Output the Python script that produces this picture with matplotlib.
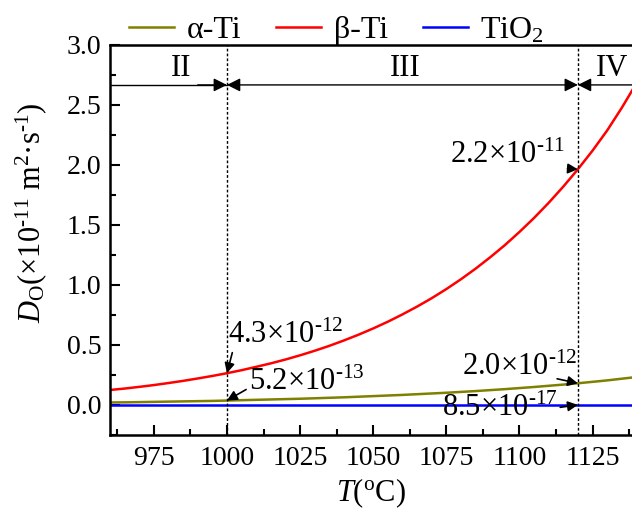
import matplotlib.pyplot as plt
from matplotlib.ticker import MultipleLocator

plt.rcParams['font.family'] = ['Liberation Serif', 'DejaVu Serif']
plt.rcParams['mathtext.fontset'] = 'custom'
plt.rcParams['mathtext.rm'] = 'Liberation Serif'
plt.rcParams['mathtext.it'] = 'Liberation Serif:italic'

# temperature (ºC) and diffusion coefficient D_O (x1e-11 m2/s)
temp = [960, 965, 970, 975, 980, 985, 990, 995, 1000, 1005, 1010, 1015, 1020,
        1025, 1030, 1035, 1040, 1045, 1050, 1055, 1060, 1065, 1070, 1075, 1080,
        1085, 1090, 1095, 1100, 1105, 1110, 1115, 1120, 1125, 1130, 1135, 1140]
d_beta = [0.124, 0.136, 0.150, 0.165, 0.182, 0.200, 0.220, 0.241, 0.264, 0.289,
          0.317, 0.346, 0.378, 0.413, 0.451, 0.492, 0.537, 0.585, 0.637, 0.693,
          0.754, 0.819, 0.889, 0.965, 1.047, 1.135, 1.230, 1.331, 1.441, 1.558,
          1.684, 1.819, 1.964, 2.119, 2.287, 2.476, 2.680]
d_alpha = [0.020, 0.021, 0.023, 0.025, 0.027, 0.029, 0.031, 0.033, 0.036, 0.039,
           0.042, 0.045, 0.048, 0.051, 0.055, 0.059, 0.063, 0.068, 0.073, 0.078,
           0.083, 0.089, 0.095, 0.101, 0.108, 0.115, 0.123, 0.131, 0.140, 0.149,
           0.159, 0.169, 0.180, 0.192, 0.204, 0.218, 0.232]
d_tio2 = [0.0] * len(temp)

phase_bounds = [1000, 1120]
regions = ['II', 'III', 'IV']

fig = plt.figure(figsize=(6.32, 5.11), dpi=100)
ax = fig.add_axes([0.174, 0.149, 0.826, 0.763])

ax.plot(temp, d_alpha, color='#808000', lw=1.8, label='α-Ti')
ax.plot(temp, d_beta, color='#ff0000', lw=1.8, label='β-Ti')
ax.plot(temp, d_tio2, color='#0000ff', lw=1.8, label='TiO$_2$')

ax.set_xlim(960, 1138.5)
ax.set_ylim(-0.25, 3.0)

for b in phase_bounds:
    ax.axvline(b, color='black', ls=(0, (2, 1.5)), lw=1)

# region arrows
ya = 2.667
ax.plot([960, 1000], [ya, ya], color='black', lw=1)
ap = dict(arrowstyle='-|>', color='black', lw=1, mutation_scale=20, shrinkA=0, shrinkB=0)
ax.annotate('', xy=(1000, ya), xytext=(990, ya), arrowprops=ap)
ax.annotate('', xy=(1000, ya), xytext=(1120, ya), arrowprops=dict(ap, arrowstyle='<|-|>'))
ax.annotate('', xy=(1120, ya), xytext=(1138.5, ya), arrowprops=ap, annotation_clip=False)
ax.text(984.3, 2.8, regions[0], ha='center', va='center', fontsize=22)
ax.text(1061, 2.8, regions[1], ha='center', va='center', fontsize=22)
ax.text(1131.8, 2.8, regions[2], ha='center', va='center', fontsize=22)

# value annotations
arr = dict(arrowstyle='-|>', color='black', lw=1.2, mutation_scale=15, shrinkA=0, shrinkB=0)
fs = 22
ax.annotate('4.3×10$^{\\text{-12}}$', xy=(1000, 0.264), xytext=(1000.5, 0.58),
            ha='left', va='center', fontsize=fs,
            arrowprops=dict(arr, relpos=(0.04, 0.0)))
ax.annotate('5.2×10$^{\\text{-13}}$', xy=(1000, 0.036), xytext=(1007.5, 0.19),
            ha='left', va='center', fontsize=fs,
            arrowprops=dict(arr, relpos=(0.0, 0.3)))
ax.annotate('2.0×10$^{\\text{-12}}$', xy=(1120, 0.18), xytext=(1120, 0.31),
            ha='right', va='center', fontsize=fs,
            arrowprops=dict(arr, relpos=(0.82, 0.12)))
ax.annotate('8.5×10$^{\\text{-17}}$', xy=(1120, 0.0), xytext=(1113, -0.03),
            ha='right', va='center', fontsize=fs,
            arrowprops=dict(arr, relpos=(0.86, 0.45)))
ax.annotate('2.2×10$^{\\text{-11}}$', xy=(1120, 1.964), xytext=(1115.5, 2.08),
            ha='right', va='center', fontsize=fs,
            arrowprops=dict(arr, relpos=(0.84, 0.1)))

ax.xaxis.set_major_locator(MultipleLocator(25))
ax.xaxis.set_minor_locator(MultipleLocator(12.5))
ax.yaxis.set_major_locator(MultipleLocator(0.5))
ax.yaxis.set_minor_locator(MultipleLocator(0.25))
ax.set_xticks([975, 1000, 1025, 1050, 1075, 1100, 1125])
ax.tick_params(which='major', direction='in', length=7, width=1.5, labelsize=20)
ax.tick_params(which='minor', direction='in', length=4, width=1.5)
ax.tick_params(axis='x', pad=8)
ax.tick_params(axis='y', pad=6)
ax.yaxis.set_major_formatter(plt.FormatStrFormatter('%.1f'))
for s in ['left', 'bottom', 'top']:
    ax.spines[s].set_linewidth(1.8)
ax.spines['right'].set_visible(False)

ax.set_xlabel('$T$($^{\\rm o}$C)', fontsize=22, labelpad=4)
ax.set_ylabel('$D_{\\rm O}$(×10$^{\\text{-11}}$ m$^2$·s$^{\\text{-1}}$)', fontsize=22)
ax.yaxis.set_label_coords(-0.117, 0.57)

fig.legend(loc='center left', bbox_to_anchor=(0.204, 0.94), ncol=3, frameon=False,
           fontsize=23, handlelength=1.4, handletextpad=0.4, columnspacing=1.1,
           borderpad=0, borderaxespad=0)

fig.savefig('out.png', dpi=100)
